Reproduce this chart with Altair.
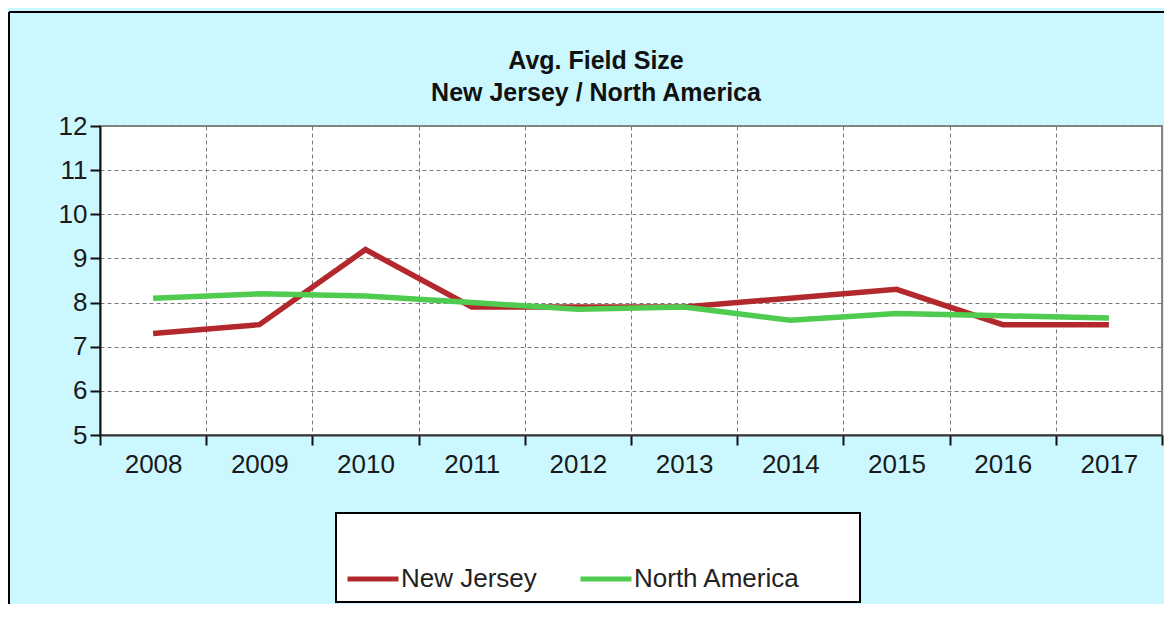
import altair as alt
import pandas as pd

years = ["2008", "2009", "2010", "2011", "2012", "2013", "2014", "2015", "2016", "2017"]
new_jersey = [7.3, 7.5, 9.2, 7.9, 7.9, 7.9, 8.1, 8.3, 7.5, 7.5]
north_america = [8.1, 8.2, 8.15, 8.0, 7.85, 7.9, 7.6, 7.75, 7.7, 7.65]
series_names = ["New Jersey", "North America"]
series_colors = ["#B3282D", "#4FCB4F"]
y_ticks = [5, 6, 7, 8, 9, 10, 11, 12]
title_lines = ["Avg. Field Size", "New Jersey / North America"]

rows = []
for i, yr in enumerate(years):
    rows.append({"year": yr, "series": series_names[0], "value": new_jersey[i]})
    rows.append({"year": yr, "series": series_names[1], "value": north_america[i]})
df = pd.DataFrame(rows)

FONT = "Liberation Sans"
W, H = 1062, 309
PAD = {"left": 92, "top": 118, "right": 2, "bottom": 169}

lines = alt.Chart(df).mark_line(strokeWidth=5.5, strokeJoin="miter", strokeCap="butt").encode(
    x=alt.X(
        "year:O",
        sort=years,
        bandPosition=0.5,
        scale=alt.Scale(type="band", paddingInner=0, paddingOuter=0),
        axis=alt.Axis(
            title=None, labelAngle=0, labelFont=FONT, labelFontSize=26, labelColor="#1a1a1a",
            labelPadding=6, tickBand="extent", ticks=True, tickSize=10, tickWidth=2,
            tickColor="#111", domainColor="#333", domainWidth=2,
            grid=True, gridColor="#7a7a7a", gridDash=[4, 3], gridWidth=1,
        ),
    ),
    y=alt.Y(
        "value:Q",
        scale=alt.Scale(domain=[5, 12], nice=False, zero=False),
        axis=alt.Axis(
            title=None, values=y_ticks, labelFont=FONT, labelFontSize=26, labelColor="#1a1a1a",
            labelPadding=3, tickSize=10, tickWidth=2, tickColor="#111",
            domainColor="#111", domainWidth=2,
            grid=True, gridColor="#7a7a7a", gridDash=[4, 3], gridWidth=1,
        ),
    ),
    color=alt.Color(
        "series:N",
        scale=alt.Scale(domain=series_names, range=series_colors),
        legend=alt.Legend(
            orient="none", legendX=236, legendY=387, direction="horizontal",
            title=" ", titleFontSize=26, titlePadding=12, padding=0,
            symbolType="stroke", symbolSize=2601, symbolStrokeWidth=5, symbolOffset=9,
            labelFont=FONT, labelFontSize=26, labelColor="#222", labelOffset=0,
            labelLimit=500, columnPadding=32,
        ),
    ),
)

border = pd.DataFrame({"k": [0]})
legend_box = alt.Chart(border).mark_rect(fill="white", stroke="black", strokeWidth=2, clip=False).encode(
    x=alt.value(236), x2=alt.value(760), y=alt.value(387), y2=alt.value(476)
)
top_rule = alt.Chart(border).mark_rule(color="black", strokeWidth=2, clip=False).encode(
    x=alt.value(-91), x2=alt.value(W + 2), y=alt.value(-114)
)
left_rule = alt.Chart(border).mark_rule(color="black", strokeWidth=2, clip=False).encode(
    x=alt.value(-91), y=alt.value(-114), y2=alt.value(H + PAD["bottom"])
)

chart = alt.layer(legend_box, lines, top_rule, left_rule).properties(
    width=W,
    height=H,
    padding=PAD,
    autosize=alt.AutoSizeParams(type="none"),
    background="#CBF8FF",
    title=alt.TitleParams(
        text=title_lines, font=FONT, fontSize=25, fontWeight="bold", color="#111",
        anchor="middle", frame="group", dx=-35, offset=0, dy=95, lineHeight=32,
    ),
).configure_view(fill="white", stroke="#888", strokeWidth=2)

chart.save("out.html", embed_options={"renderer": "svg", "actions": False})
